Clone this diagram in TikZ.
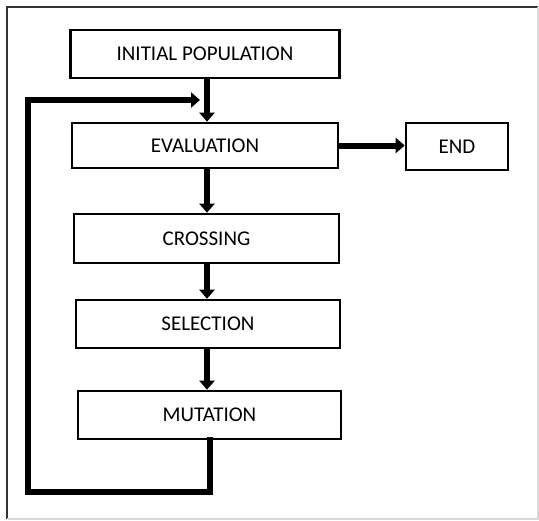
\documentclass[tikz,border=0pt]{standalone}
\usepackage{fontspec}
\setmainfont{Carlito}
\usetikzlibrary{positioning,arrows.meta}

\tikzset{
  stage/.style={draw=black,line width=1.3pt,fill=white,inner sep=0pt,
    font=\fontsize{10.5}{12}\selectfont},
  flow/.style={line width=3pt,-{Triangle[width=7.5pt,length=4.5pt]}},
  loopline/.style={line width=3pt,line cap=rect}
}

\begin{document}
\begin{tikzpicture}[x=0.5pt,y=-0.5pt]
\useasboundingbox (0,0) rectangle (539,520);
% frame
\fill[white] (0,0) rectangle (539,520);
\draw[black!80,line width=1pt] (7,519) -- (7,7) -- (538,7);
\draw[black!15,line width=0.8pt] (538,7) -- (538,519) -- (7,519);

% stages
\node[stage,minimum width=134.5pt,minimum height=24pt] (init) at (205,54) {INITIAL POPULATION};
\node[stage,minimum width=133pt,minimum height=22.5pt] (eval) at (205,145.5) {EVALUATION};
\node[stage,minimum width=51pt,minimum height=23.5pt] (end) at (457,146.5) {END};
\node[stage,minimum width=132.5pt,minimum height=24.5pt] (cross) at (206.5,238.5) {CROSSING};
\node[stage,minimum width=132pt,minimum height=24pt] (sel) at (208,324) {SELECTION};
\node[stage,minimum width=131.5pt,minimum height=24pt] (mut) at (209.5,415) {MUTATION};

% arrows
\coordinate (axis) at (207,0);
\draw[flow] (init.south -| axis) -- (eval.north -| axis);
\draw[flow] (eval.east) -- (eval.east -| end.west);
\draw[flow] (eval.south -| axis) -- (cross.north -| axis);
\draw[flow] (cross.south -| axis) -- (sel.north -| axis);
\draw[flow] (sel.south -| axis) -- (mut.north -| axis);

% back loop
\coordinate (corner) at (28,492);
\coordinate (back) at (200,100);
\draw[loopline] (mut.south) |- (corner) |- (back -| 185,0);
\draw[flow] (184,100) -- (back);
\end{tikzpicture}
\end{document}
